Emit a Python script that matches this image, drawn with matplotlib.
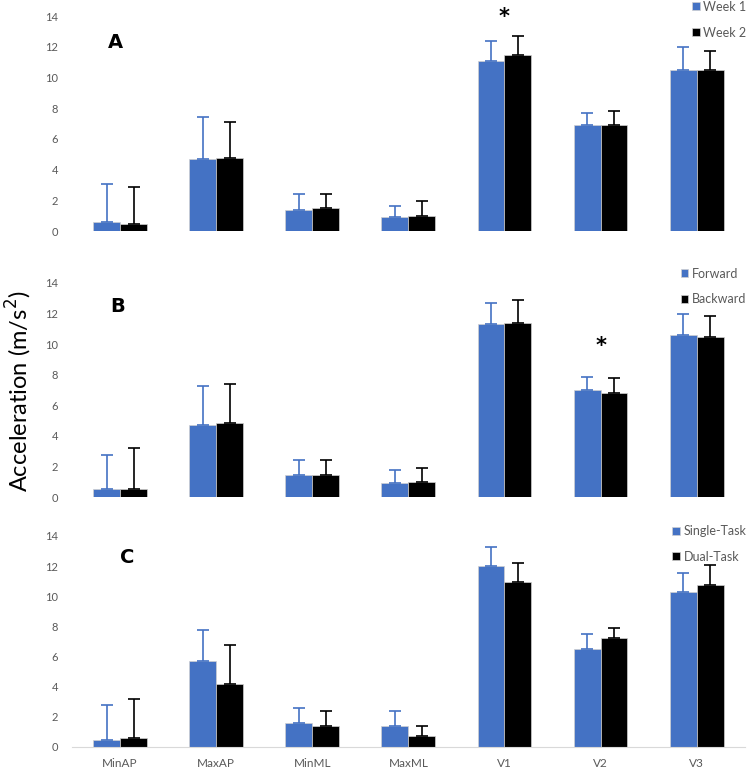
import matplotlib.pyplot as plt
import numpy as np

categories = ['MinAP', 'MaxAP', 'MinML', 'MaxML', 'V1', 'V2', 'V3']

# panel A: week 1 vs week 2
week1 = [0.60, 4.69, 1.37, 0.89, 11.07, 6.88, 10.46]
week1_sd = [2.44, 2.71, 1.04, 0.76, 1.34, 0.82, 1.50]
week2 = [0.44, 4.77, 1.52, 0.98, 11.46, 6.88, 10.52]
week2_sd = [2.40, 2.33, 0.89, 0.97, 1.26, 0.91, 1.20]

# panel B: forward vs backward
forward = [0.54, 4.73, 1.44, 0.92, 11.29, 7.00, 10.60]
forward_sd = [2.19, 2.51, 0.98, 0.83, 1.38, 0.83, 1.35]
backward = [0.54, 4.82, 1.44, 1.00, 11.38, 6.78, 10.44]
backward_sd = [2.64, 2.55, 0.98, 0.88, 1.48, 0.98, 1.42]

# panel C: single vs dual task
single = [0.49, 5.73, 1.56, 1.42, 11.98, 6.52, 10.30]
single_sd = [2.32, 2.06, 0.99, 0.97, 1.30, 0.95, 1.26]
dual = [0.62, 4.20, 1.42, 0.71, 10.92, 7.21, 10.74]
dual_sd = [2.53, 2.59, 0.97, 0.67, 1.28, 0.67, 1.36]

panels = [
    ('A', 'Week 1', 'Week 2', week1, week1_sd, week2, week2_sd, ('V1', 13.95)),
    ('B', 'Forward', 'Backward', forward, forward_sd, backward, backward_sd, ('V2', 9.85)),
    ('C', 'Single-Task', 'Dual-Task', single, single_sd, dual, dual_sd, None),
]

blue = '#4472C4'
gray = '#595959'
plt.rcParams['font.family'] = ['Lato', 'DejaVu Sans']

fig = plt.figure(figsize=(7.5, 7.7), dpi=100)
boxes = [[0.096, 0.700, 0.897, 0.279],
         [0.096, 0.3545, 0.897, 0.278],
         [0.096, 0.030, 0.897, 0.274]]
letter_pos = [(0.064, 0.879), (0.068, 0.888), (0.082, 0.896)]
legend_y = [1.095, 1.095, 1.075]

x = np.arange(len(categories))
w = 0.28

for i, (letter, lab1, lab2, v1, e1, v2, e2, star) in enumerate(panels):
    ax = fig.add_axes(boxes[i])
    ax.bar(x - w / 2, v1, w, color=blue, label=lab1, edgecolor='#d0d0d0', linewidth=0.5)
    ax.bar(x + w / 2, v2, w, color='black', label=lab2, edgecolor='#d0d0d0', linewidth=0.5)
    ax.errorbar(x - w / 2, v1, yerr=[np.zeros(len(v1)), e1], fmt='none',
                ecolor=blue, elinewidth=1.2, capsize=4, capthick=1.2)
    ax.errorbar(x + w / 2, v2, yerr=[np.zeros(len(v2)), e2], fmt='none',
                ecolor='black', elinewidth=1.2, capsize=4, capthick=1.2)

    ax.set_xlim(-0.5, len(categories) - 0.5)
    ax.set_ylim(0, 14)
    ax.set_yticks(range(0, 15, 2))
    ax.tick_params(axis='y', length=0, pad=10, labelsize=8, labelcolor=gray)
    ax.tick_params(axis='x', length=0, pad=8, labelsize=8.5, labelcolor=gray)
    for s in ax.spines.values():
        s.set_visible(False)

    if letter == 'C':
        ax.set_xticks(x)
        ax.set_xticklabels(categories)
        ax.spines['bottom'].set_visible(True)
        ax.spines['bottom'].set_color('#d9d9d9')
    else:
        ax.set_xticks([])

    ax.text(letter_pos[i][0], letter_pos[i][1], letter, transform=ax.transAxes,
            fontsize=14, fontweight='bold', family='DejaVu Sans',
            ha='center', va='center')

    if star is not None:
        ax.text(categories.index(star[0]), star[1], '*', fontsize=15,
                fontweight='bold', family='DejaVu Sans', ha='center', va='center',
                clip_on=False)

    leg = ax.legend(loc='upper right', bbox_to_anchor=(1.01, legend_y[i]), frameon=False,
                    handlelength=0.6, handleheight=0.6, handletextpad=0.3,
                    labelspacing=1.1, fontsize=9, borderaxespad=0)
    for t in leg.get_texts():
        t.set_color(gray)

fig.text(0.025, 0.492, 'Acceleration (m/s$^2$)', rotation=90, fontsize=17,
         ha='center', va='center')

fig.savefig('out.png', dpi=100)
